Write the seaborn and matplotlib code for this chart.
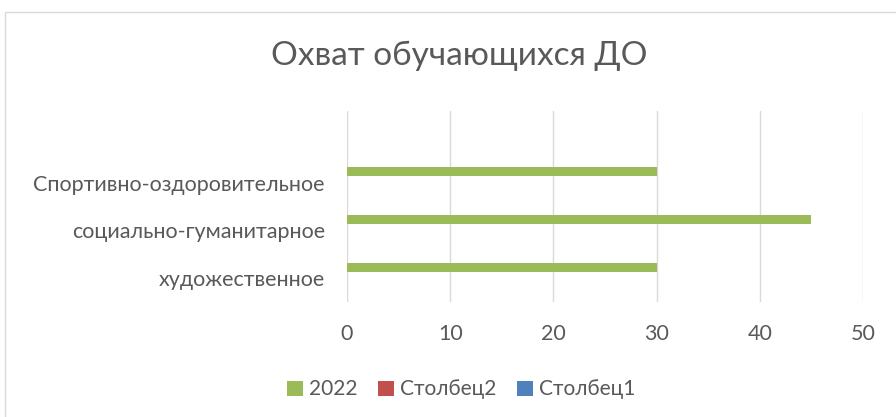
import numpy as np
import pandas as pd
import matplotlib.pyplot as plt
import seaborn as sns
from matplotlib.patches import Patch, Rectangle

# data (top row is an empty category)
categories = [" ", "Спортивно-оздоровительное", "социально-гуманитарное", "художественное"]
series_names = ["2022", "Столбец2", "Столбец1"]
values_2022 = [np.nan, 30, 45, 30]
values_col2 = [np.nan, 0, 0, 0]
values_col1 = [np.nan, 0, 0, 0]
x_ticks = [0, 10, 20, 30, 40, 50]

colors = ["#9BBB59", "#C0504D", "#4F81BD"]
text_gray = "#595959"

df = pd.DataFrame({
    "category": categories * 3,
    "series": [s for s in series_names for _ in categories],
    "value": values_2022 + values_col2 + values_col1,
})

sns.set_theme(style="white")
plt.rcParams["font.family"] = ["Lato", "DejaVu Sans"]

fig = plt.figure(figsize=(8.96, 4.17), dpi=100)
ax = fig.add_axes([0.3873, 0.2758, 0.5759, 0.458])

sns.barplot(data=df, x="value", y="category", hue="series", order=categories,
            hue_order=series_names, palette=colors, saturation=1, orient="h",
            width=0.69, gap=0.18, linewidth=0, legend=False, ax=ax)

ax.set_xlim(0, 50)
ax.set_xticks(x_ticks)
ax.set_xlabel("")
ax.set_ylabel("")
ax.grid(axis="x", color="#D9D9D9", linewidth=1)
ax.set_axisbelow(True)
for sp in ax.spines.values():
    sp.set_visible(False)
ax.tick_params(axis="both", length=0, labelsize=15.5, colors=text_gray)
ax.tick_params(axis="y", pad=16)
ax.tick_params(axis="x", pad=16)

fig.text(0.512, 0.865, "Охват обучающихся ДО", ha="center", va="center",
         fontsize=24, color=text_gray)

handles = [Patch(facecolor=c, edgecolor="none") for c in colors]
fig.legend(handles, series_names, loc="center", bbox_to_anchor=(0.515, 0.066),
           ncol=3, frameon=False, fontsize=15, handlelength=0.75, handleheight=0.75,
           handletextpad=0.3, columnspacing=1.0, labelcolor=text_gray)

# chart border
fig.patches.append(Rectangle((5 / 896, -0.1), 1.1, 1 - 12 / 417 + 0.1,
                             transform=fig.transFigure, fill=False,
                             edgecolor="#D9D9D9", linewidth=1))

fig.savefig("out.png", dpi=100)
